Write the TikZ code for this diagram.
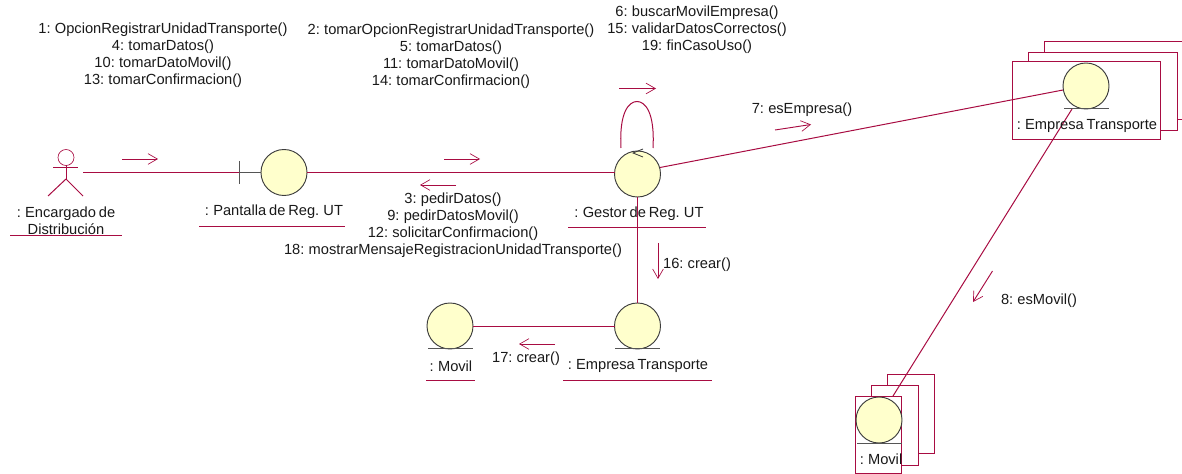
\documentclass[tikz,border=0pt]{standalone}
\usepackage{fontspec}
\setmainfont[WordSpace=0.7]{Liberation Sans}
\usetikzlibrary{arrows.meta}
\definecolor{umlred}{HTML}{A80C42}
\definecolor{umlfill}{HTML}{FFFFCC}
\definecolor{umlgray}{HTML}{555555}
\tikzset{
  x=0.75pt,y=-0.75pt,
  every node/.style={inner sep=0pt,outer sep=0pt},
  link/.style={draw=umlred,line width=0.75pt},
  msg/.style={draw=umlred,line width=0.7pt,-{Straight Barb[length=7pt,width=8pt,line width=0.5pt]}},
  ball/.style={circle,draw=umlgray!70!black,fill=umlfill,line width=0.7pt,minimum size=34.5pt},
  bar/.style={draw=umlgray,line width=0.75pt},
  sheet/.style={rectangle,draw=umlred,fill=white,line width=0.75pt},
  txt/.style={font=\fontsize{11pt}{12.75pt}\selectfont,align=center,text=black!90},
  under/.style={draw=umlred,line width=0.75pt},
}
\begin{document}
\begin{tikzpicture}
\useasboundingbox (0,0) rectangle (1182,474);
% stacked sheets: empresa
\node[sheet,minimum width=150pt,minimum height=59pt] (es3) at (1144,80.5) {};
\node[sheet,minimum width=111.75pt,minimum height=59pt] (es2) at (1102.5,91.5) {};
\node[sheet,minimum width=111pt,minimum height=58.5pt] (es1) at (1086,101) {};
% stacked sheets: movil
\node[sheet,minimum width=35.6pt,minimum height=59.6pt] (ms3) at (911.25,414.25) {};
\node[sheet,minimum width=35.6pt,minimum height=60pt] (ms2) at (895.25,425) {};
\node[sheet,minimum width=35.2pt,minimum height=57.75pt] (ms1) at (878.5,434.5) {};
% anchors of free ends
\coordinate (actorhand) at (83,172.5);
\coordinate (barc) at (239,172.5);
\coordinate (loopl) at (621,148);
\coordinate (loopr) at (653,148);
\coordinate (looptop) at (637,101.5);
% balls
\node[ball] (pant) at (284,172.5) {};
\node[ball] (gest) at (637.5,174) {};
\node[ball] (emp) at (637.5,326) {};
\node[ball] (mov) at (450,326) {};
\node[ball] (empm) at (1086,86) {};
\node[ball] (movm) at (879,420) {};
\coordinate (empmfoot) at (1072,109);
\coordinate (movmtop) at (893,396);
\coordinate (gestleft) at (614.5,172.5);
\coordinate (gestright) at (660,167.5);
\coordinate (empmleft) at (1063,90);
% links
\draw[link] (actorhand) -- (barc);
\draw[bar] (barc) -- (pant.west);
\draw[bar] (239,161) -- (239,184);
\draw[link] (pant.east) -- (gestleft);
\draw[link] (gest.south) -- (emp.north);
\draw[link] (mov.east) -- (emp.west);
\draw[link] (gestright) -- (empmleft);
\draw[link] (empmfoot) -- (movmtop);
\draw[link] (loopl) .. controls (619,112) and (629,101.5) .. (looptop) .. controls (645,101.5) and (655,112) .. (loopr);
% actor
\node[circle,draw=umlred,line width=0.5pt,minimum size=12pt] (head) at (66,157.5) {};
\draw[under] (head.south) -- (66,179) coordinate (hip);
\draw[under] (53,168) -- (78,168);
\draw[under] (hip) -- (48,196);
\draw[under] (hip) -- (83,196);
% bars under balls
\draw[bar] (615,348) -- (660,348);
\draw[bar] (428,348) -- (473,348);
\draw[bar] (1064,109) -- (1109,109);
\draw[bar] (857,443) -- (902,443);
% underlines
\draw[under] (10,235.5) -- (122,235.5);
\draw[under] (199,226.5) -- (345,226.5);
\draw[under] (568,227.5) -- (706,227.5);
\draw[under] (563,380) -- (712,380);
\draw[under] (426,380) -- (475,380);
% labels
\node[txt] (l-actor) at (66,221) {: Encargado de\\Distribución};
\node[txt] (l-pant) at (274,211.5) {: Pantalla de Reg. UT};
\node[txt] (l-gest) at (639,213.5) {: Gestor de Reg. UT};
\node[txt] (l-emp) at (638,366) {: Empresa Transporte};
\node[txt] (l-mov) at (451,366.5) {: Movil};
\node[txt] (l-empm) at (1087,125.5) {: Empresa Transporte};
\node[txt] (l-movm) at (881,459.5) {: Movil};
% link across gestor label
\draw[link] (gest.south) -- (637.5,228);
% messages
\node[txt] (m1) at (163,55) {1: OpcionRegistrarUnidadTransporte()\\4: tomarDatos()\\10: tomarDatoMovil()\\13: tomarConfirmacion()};
\node[txt] (m2) at (451,56) {2: tomarOpcionRegistrarUnidadTransporte()\\5: tomarDatos()\\11: tomarDatoMovil()\\14: tomarConfirmacion()};
\node[txt] (m3) at (697,29.5) {6: buscarMovilEmpresa()\\15: validarDatosCorrectos()\\19: finCasoUso()};
\node[txt] (m4) at (453,225.5) {3: pedirDatos()\\9: pedirDatosMovil()\\12: solicitarConfirmacion()\\18: mostrarMensajeRegistracionUnidadTransporte()};
\node[txt] (m7) at (802,109.5) {7: esEmpresa()};
\node[txt] (m8) at (1039,300.5) {8: esMovil()};
\node[txt] (m16) at (697,264.5) {16: crear()};
\node[txt] (m17) at (526,358.5) {17: crear()};
% arrows
\draw[msg] (122,159) -- (158,159);
\draw[msg] (444,159) -- (480,159);
\draw[msg] (456,185) -- (420,185);
\draw[msg] (619,88.5) -- (656,88.5);
\draw[msg] (775,130) -- (811,124.5);
\draw[msg] (658,243) -- (658,279);
\draw[msg] (555,344) -- (519,344);
\draw[msg] (992.5,271) -- (973,302);
\draw[draw=umlgray!60!black,line width=0.6pt] (643,149) -- (633,153) -- (643,157);
\end{tikzpicture}
\end{document}
